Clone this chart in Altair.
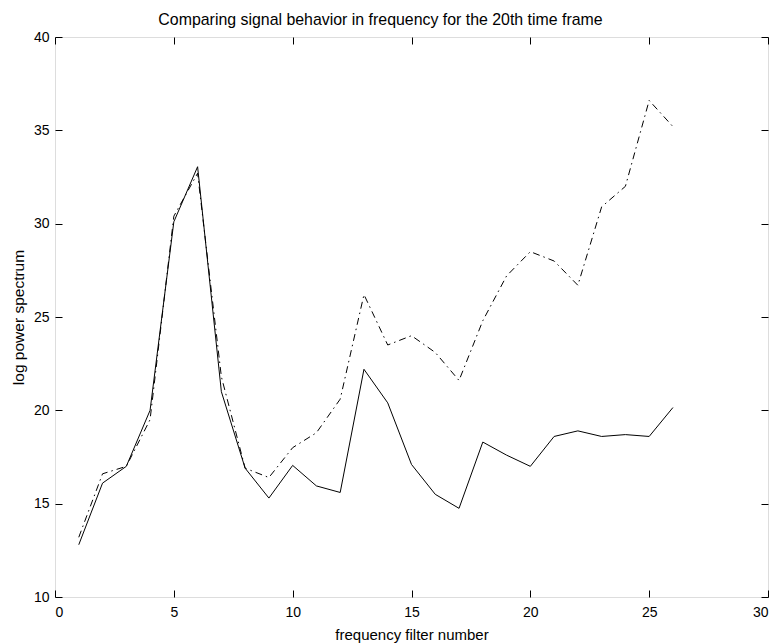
import altair as alt
import pandas as pd

filters = list(range(1, 27))
solid_vals = [12.8, 16.1, 17.0, 20.0, 30.1, 33.05, 21.0, 16.9, 15.3, 17.05, 15.95, 15.6, 22.2,
              20.4, 17.1, 15.5, 14.75, 18.3, 17.6, 17.0, 18.6, 18.9, 18.6, 18.7, 18.6, 20.15]
dashdot_vals = [13.2, 16.6, 17.0, 19.5, 30.4, 32.7, 21.8, 16.9, 16.4, 18.0, 18.8, 20.6, 26.2,
                23.5, 24.0, 23.1, 21.6, 24.8, 27.2, 28.5, 28.0, 26.7, 30.9, 32.0, 36.6, 35.2]
x_ticks = [0, 5, 10, 15, 20, 25, 30]
y_ticks = [10, 15, 20, 25, 30, 35, 40]

df = pd.DataFrame({"f": filters, "solid": solid_vals, "dashdot": dashdot_vals})

FONT = "Liberation Sans"
xs = alt.Scale(domain=[0, 30], nice=False, zero=False)
ys = alt.Scale(domain=[10, 40], nice=False, zero=False)

label_x = alt.Axis(values=x_ticks, orient="bottom", ticks=False, domain=False, grid=False,
                   labelFontSize=14, labelFont=FONT, labelColor="black", labelPadding=8,
                   title="frequency filter number", titleFont=FONT, titleFontSize=15,
                   titleFontWeight="normal", titleColor="black", titlePadding=8)
label_y = alt.Axis(values=y_ticks, orient="left", ticks=False, domain=False, grid=False,
                   labelFontSize=14, labelFont=FONT, labelColor="black", labelPadding=6,
                   title="log power spectrum", titleFont=FONT, titleFontSize=15.5,
                   titleFontWeight="normal", titleColor="black", titlePadding=7)

def tick_axis(orient, values):
    return alt.Axis(values=values, orient=orient, ticks=True, tickSize=7, tickColor="black",
                    tickWidth=1, labels=False, domain=False, grid=False, title=None, offset=-7)

base = alt.Chart(df)

solid = base.mark_line(color="black", strokeWidth=1).encode(
    x=alt.X("f:Q", scale=xs, axis=label_x),
    y=alt.Y("solid:Q", scale=ys, axis=label_y),
)

dashdot = base.mark_line(color="black", strokeWidth=1, strokeDash=[7, 4, 1.5, 4]).encode(
    x=alt.X("f:Q", scale=xs, axis=tick_axis("bottom", x_ticks)),
    y=alt.Y("dashdot:Q", scale=ys, axis=tick_axis("left", y_ticks)),
)

frame_ticks = base.mark_line(strokeOpacity=0).encode(
    x=alt.X("f:Q", scale=xs, axis=tick_axis("top", x_ticks)),
    y=alt.Y("solid:Q", scale=ys, axis=tick_axis("right", y_ticks)),
)

chart = alt.layer(solid, dashdot, frame_ticks).resolve_axis(
    x="independent", y="independent"
).properties(
    width=713,
    height=560,
    title=alt.TitleParams(
        "Comparing signal behavior in frequency for the 20th time frame",
        font=FONT, fontSize=15.9, fontWeight="normal", color="black",
        anchor="middle", dx=-31, offset=2,
    ),
    autosize=alt.AutoSizeParams(type="none"),
    padding={"left": 47, "top": 29, "right": 4, "bottom": 47},
).configure_view(stroke="black", strokeWidth=1).configure(background="white")

chart.save("out.html", embed_options={"renderer": "svg", "actions": False})
